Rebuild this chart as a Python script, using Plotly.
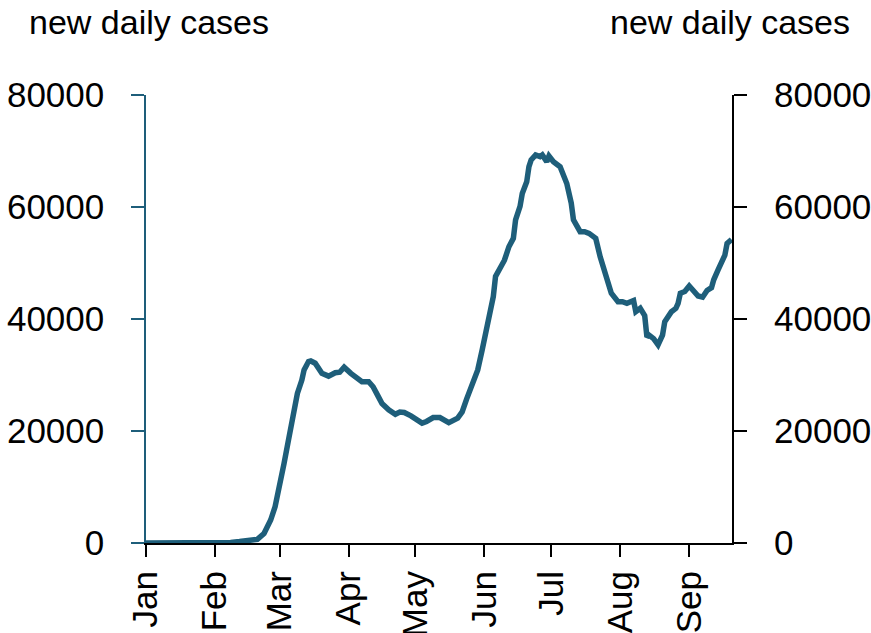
import plotly.graph_objects as go

dates = [
    "2020-01-01", "2020-01-25", "2020-02-08", "2020-02-12", "2020-02-20", "2020-02-23",
    "2020-02-26", "2020-02-28", "2020-03-01", "2020-03-03", "2020-03-05", "2020-03-07",
    "2020-03-09", "2020-03-11", "2020-03-12", "2020-03-14", "2020-03-15", "2020-03-17",
    "2020-03-18", "2020-03-20", "2020-03-23", "2020-03-26", "2020-03-28", "2020-03-30",
    "2020-04-02", "2020-04-04", "2020-04-07", "2020-04-10", "2020-04-12", "2020-04-14",
    "2020-04-16", "2020-04-19", "2020-04-22", "2020-04-24", "2020-04-26", "2020-04-29",
    "2020-05-02", "2020-05-04", "2020-05-06", "2020-05-09", "2020-05-12", "2020-05-14",
    "2020-05-16", "2020-05-20", "2020-05-22", "2020-05-24", "2020-05-27", "2020-05-29",
    "2020-05-31", "2020-06-01", "2020-06-03", "2020-06-05", "2020-06-06", "2020-06-08",
    "2020-06-10", "2020-06-12", "2020-06-14", "2020-06-15", "2020-06-17", "2020-06-18",
    "2020-06-20", "2020-06-21", "2020-06-22", "2020-06-24", "2020-06-26", "2020-06-27",
    "2020-06-29", "2020-06-30", "2020-07-02", "2020-07-05", "2020-07-07", "2020-07-08",
    "2020-07-10", "2020-07-11", "2020-07-14", "2020-07-16", "2020-07-18", "2020-07-21",
    "2020-07-23", "2020-07-26", "2020-07-28", "2020-07-31", "2020-08-02", "2020-08-04",
    "2020-08-07", "2020-08-08", "2020-08-10", "2020-08-12", "2020-08-13", "2020-08-14",
    "2020-08-16", "2020-08-18", "2020-08-20", "2020-08-21", "2020-08-24", "2020-08-26",
    "2020-08-27", "2020-08-28", "2020-08-30", "2020-09-01", "2020-09-03", "2020-09-05",
    "2020-09-07", "2020-09-09", "2020-09-11", "2020-09-12", "2020-09-14", "2020-09-15",
    "2020-09-17", "2020-09-18", "2020-09-20",
]
new_cases = [
    0, 0, 100, 250, 650, 1700,
    4100, 6500, 10000, 14200, 18400, 23200,
    26700, 29100, 30900, 32400, 32500, 32100,
    31500, 30300, 29800, 30400, 30500, 31400,
    30300, 29800, 28800, 28800, 27900, 26400,
    24900, 23800, 23000, 23400, 23300, 22700,
    22000, 21400, 21700, 22400, 22400, 21800,
    21500, 22300, 23400, 25700, 28500, 30900,
    34500, 36300, 41000, 44000, 47600, 49100,
    50500, 52900, 54400, 57700, 60100, 62400,
    64500, 67200, 68400, 69300, 69000, 69300,
    68100, 69100, 68100, 67200, 65400, 64200,
    60700, 57700, 55600, 55600, 55300, 54400,
    51100, 47600, 44600, 43100, 43100, 42800,
    43300, 41300, 41900, 40600, 36800, 37100,
    36500, 35400, 37100, 39500, 41300, 41900,
    42800, 44600, 44900, 45900, 44900, 44100,
    43900, 45100, 45600, 47000, 48800, 49600,
    51400, 53500, 54200,
]

tick_dates = ["2020-01-01", "2020-02-01", "2020-03-01", "2020-04-01", "2020-05-01",
              "2020-06-01", "2020-07-01", "2020-08-01", "2020-09-01"]
tick_labels = ["Jan", "Feb", "Mar", "Apr", "May", "Jun", "Jul", "Aug", "Sep"]
y_ticks = [0, 20000, 40000, 60000, 80000]
title_text = "new daily cases"

LINE = "rgb(30,94,122)"
TICKFONT = dict(family="Liberation Sans, Arial", size=35, color="black")

fig = go.Figure()
fig.add_trace(go.Scatter(x=dates, y=new_cases, mode="lines",
                         line=dict(color=LINE, width=5.5), showlegend=False))
fig.add_trace(go.Scatter(x=dates, y=new_cases, mode="lines", yaxis="y2",
                         line=dict(color="rgba(0,0,0,0)", width=0), showlegend=False,
                         hoverinfo="skip"))

fig.update_layout(
    width=871, height=633,
    margin=dict(l=146, r=139, t=95, b=90),
    paper_bgcolor="white", plot_bgcolor="white",
    xaxis=dict(
        range=["2020-01-01", "2020-09-20 05:00"],
        tickvals=tick_dates, ticktext=tick_labels, tickangle=-90,
        ticks="outside", ticklen=12, tickwidth=2, tickcolor="black",
        showline=True, linecolor="black", linewidth=2,
        showgrid=False, zeroline=False, tickfont=TICKFONT,
        ticklabelstandoff=0, automargin=False,
    ),
    yaxis=dict(
        range=[0, 80000], tickvals=y_ticks, ticktext=[str(v) for v in y_ticks],
        ticks="outside", ticklen=13, tickwidth=1.5, tickcolor=LINE,
        showline=True, linecolor=LINE, linewidth=1.5,
        showgrid=False, zeroline=False, tickfont=TICKFONT,
        ticklabelstandoff=20, automargin=False,
    ),
    yaxis2=dict(
        range=[0, 80000], tickvals=y_ticks, ticktext=[str(v) for v in y_ticks],
        overlaying="y", side="right",
        ticks="outside", ticklen=13, tickwidth=2, tickcolor="black",
        showline=True, linecolor="black", linewidth=2,
        showgrid=False, zeroline=False, tickfont=TICKFONT,
        ticklabelstandoff=20, automargin=False,
    ),
    annotations=[
        dict(text=title_text, xref="paper", yref="paper", x=-0.203, y=1.163,
             xanchor="left", yanchor="middle", showarrow=False,
             font=dict(family="Liberation Sans, Arial", size=34, color="black")),
        dict(text=title_text, xref="paper", yref="paper", x=1.204, y=1.163,
             xanchor="right", yanchor="middle", showarrow=False,
             font=dict(family="Liberation Sans, Arial", size=34, color="black")),
    ],
)

fig.write_html("out.html", config={"displayModeBar": False},
               post_script="document.body.style.margin='0px';")
